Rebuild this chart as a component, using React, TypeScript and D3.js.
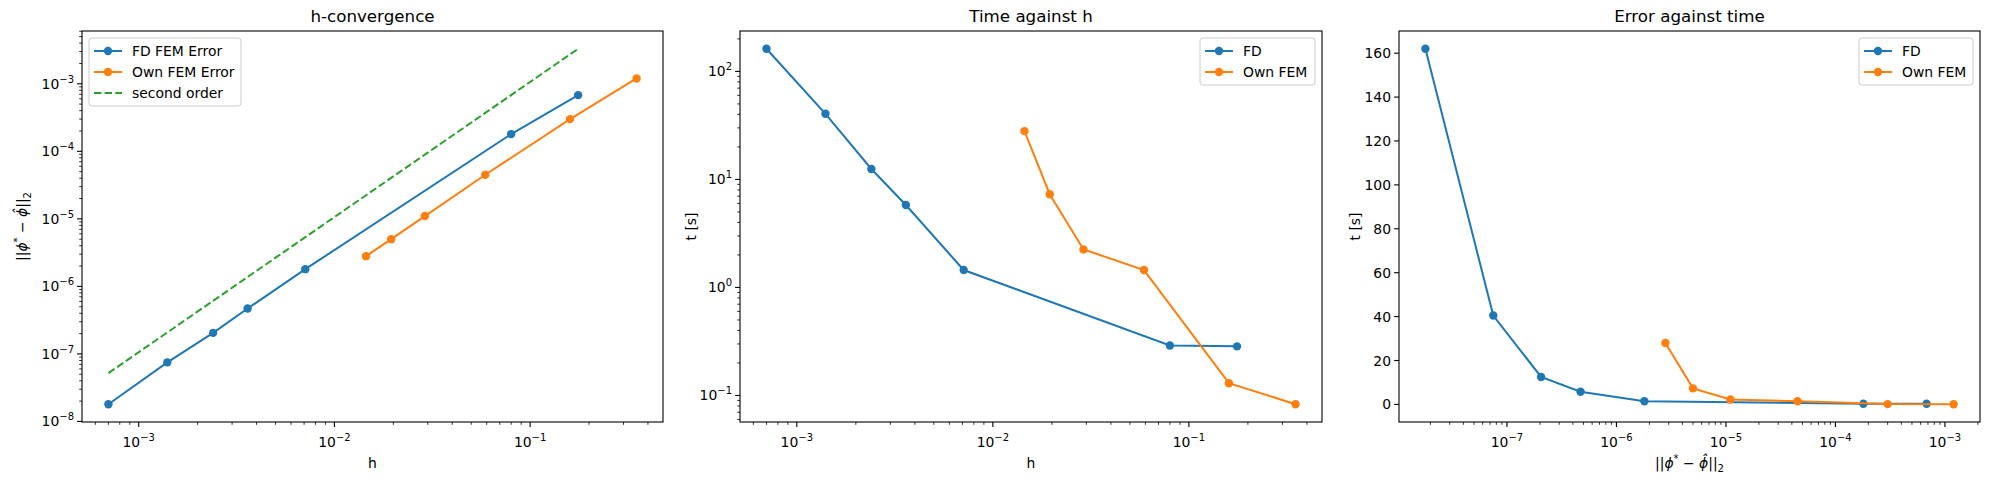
import React from 'react';
import * as d3 from 'd3';

const fdH = [7.0e-4, 1.4e-3, 2.4e-3, 3.6e-3, 7.1e-3, 0.08, 0.176];
const fdErr = [1.8e-8, 7.5e-8, 2.05e-7, 4.7e-7, 1.8e-6, 1.8e-4, 6.8e-4];
const fdTime = [162, 40.5, 12.5, 5.8, 1.45, 0.29, 0.285];

const ownH = [0.0145, 0.0195, 0.029, 0.059, 0.16, 0.35];
const ownErr = [2.8e-6, 5.0e-6, 1.1e-5, 4.5e-5, 3.0e-4, 1.2e-3];
const ownTime = [28, 7.3, 2.25, 1.45, 0.13, 0.083];

const orderH = [7.0e-4, 0.176];
const orderErr = [5.2e-8, 3.3e-3];

const linTicks = [0, 20, 40, 60, 80, 100, 120, 140, 160];

const BLUE = '#1f77b4';
const ORANGE = '#ff7f0e';
const GREEN = '#2ca02c';
const FONT = 'DejaVu Sans, sans-serif';

type Series = { x: number[]; y: number[]; color: string; label: string; dashed?: boolean; markers?: boolean };

const logDomain = (vals: number[]): [number, number] => {
  const lo = Math.log10(d3.min(vals)!);
  const hi = Math.log10(d3.max(vals)!);
  const m = (hi - lo) * 0.05;
  return [Math.pow(10, lo - m), Math.pow(10, hi + m)];
};
const linDomain = (vals: number[]): [number, number] => {
  const lo = d3.min(vals)!;
  const hi = d3.max(vals)!;
  const m = (hi - lo) * 0.05;
  return [lo - m, hi + m];
};

const logTicks = (dom: [number, number]) => {
  const major: number[] = [];
  const minor: number[] = [];
  for (let k = Math.floor(Math.log10(dom[0])); k <= Math.ceil(Math.log10(dom[1])); k++) {
    for (let j = 1; j < 10; j++) {
      const v = j * Math.pow(10, k);
      if (v < dom[0] || v > dom[1]) continue;
      (j === 1 ? major : minor).push(v);
    }
  }
  return { major, minor };
};

const Pow = ({ v }: { v: number }) => {
  const e = Math.round(Math.log10(v));
  return (
    <>
      10<tspan dy={-6} fontSize={10}>{e < 0 ? '\u2212' + -e : e}</tspan>
    </>
  );
};

const NormLabel = () => (
  <>
    ||<tspan fontStyle="italic">ϕ</tspan>
    <tspan dy={-6} fontSize={10}>*</tspan>
    <tspan dy={6}> − </tspan>
    <tspan fontStyle="italic">ϕ̂</tspan>||<tspan dy={4} fontSize={10}>2</tspan>
  </>
);

interface PanelProps {
  left: number;
  right: number;
  title: string;
  series: Series[];
  xLog: boolean;
  yLog: boolean;
  xLabel: React.ReactNode;
  yLabel: React.ReactNode;
  yLabelX: number;
  legend: 'left' | 'right';
  legendWidth: number;
}

const TOP = 31;
const BOTTOM = 422;

const Panel = ({ left, right, title, series, xLog, yLog, xLabel, yLabel, yLabelX, legend, legendWidth }: PanelProps) => {
  const allX = series.flatMap((s) => s.x);
  const allY = series.flatMap((s) => s.y);
  const xDom = xLog ? logDomain(allX) : linDomain(allX);
  const yDom = yLog ? logDomain(allY) : linDomain(allY);
  const x = (xLog ? d3.scaleLog() : d3.scaleLinear()).domain(xDom).range([left, right]);
  const y = (yLog ? d3.scaleLog() : d3.scaleLinear()).domain(yDom).range([BOTTOM, TOP]);
  const xt = logTicks(xDom);
  const yt = yLog ? logTicks(yDom) : { major: linTicks, minor: [] as number[] };
  const line = d3.line<[number, number]>().x((d) => x(d[0])).y((d) => y(d[1]));
  const lx = legend === 'left' ? left + 7 : right - 7 - legendWidth;
  const rows = series.length;

  return (
    <g fontFamily={FONT} fontSize={13.9} fill="#000">
      <text x={(left + right) / 2} y={22} textAnchor="middle" fontSize={16.7}>{title}</text>
      {series.map((s) => (
        <g key={s.label}>
          <path
            d={line(s.x.map((v, i) => [v, s.y[i]]))!}
            fill="none"
            stroke={s.color}
            strokeWidth={2}
            strokeDasharray={s.dashed ? '7.4,3.2' : undefined}
          />
          {s.markers !== false &&
            s.x.map((v, i) => <circle key={i} cx={x(v)} cy={y(s.y[i])} r={4.2} fill={s.color} />)}
        </g>
      ))}
      <rect x={left} y={TOP} width={right - left} height={BOTTOM - TOP} fill="none" stroke="#000" strokeWidth={1.1} />
      {xt.major.map((v) => (
        <g key={'xM' + v}>
          <line x1={x(v)} x2={x(v)} y1={BOTTOM} y2={BOTTOM + 4.9} stroke="#000" strokeWidth={1.1} />
          <text x={x(v)} y={BOTTOM + 25} textAnchor="middle"><Pow v={v} /></text>
        </g>
      ))}
      {xt.minor.map((v) => (
        <line key={'xm' + v} x1={x(v)} x2={x(v)} y1={BOTTOM} y2={BOTTOM + 2.8} stroke="#000" strokeWidth={0.8} />
      ))}
      {yt.major.map((v) => (
        <g key={'yM' + v}>
          <line x1={left} x2={left - 4.9} y1={y(v)} y2={y(v)} stroke="#000" strokeWidth={1.1} />
          <text x={left - 8} y={y(v) + 5} textAnchor="end">{yLog ? <Pow v={v} /> : v}</text>
        </g>
      ))}
      {yt.minor.map((v) => (
        <line key={'ym' + v} x1={left} x2={left - 2.8} y1={y(v)} y2={y(v)} stroke="#000" strokeWidth={0.8} />
      ))}
      <text x={(left + right) / 2} y={468} textAnchor="middle">{xLabel}</text>
      <text transform={`translate(${yLabelX},${(TOP + BOTTOM) / 2}) rotate(-90)`} textAnchor="middle">{yLabel}</text>
      <rect x={lx} y={38} width={legendWidth} height={rows * 21 + 5} rx={3} fill="#fff" fillOpacity={0.8} stroke="#ccc" />
      {series.map((s, i) => {
        const cy = 51 + i * 21;
        return (
          <g key={'lg' + s.label}>
            <line x1={lx + 5} x2={lx + 33} y1={cy} y2={cy} stroke={s.color} strokeWidth={2} strokeDasharray={s.dashed ? '7.4,3.2' : undefined} />
            {s.markers !== false && <circle cx={lx + 19} cy={cy} r={4.2} fill={s.color} />}
            <text x={lx + 43} y={cy + 5}>{s.label}</text>
          </g>
        );
      })}
    </g>
  );
};

export default function App() {
  return (
    <svg width={1989} height={489} style={{ position: 'absolute', left: 0, top: 0, background: '#fff' }}>
      <Panel
        left={82}
        right={663}
        title="h-convergence"
        xLog
        yLog
        xLabel="h"
        yLabel={<NormLabel />}
        yLabelX={27}
        legend="left"
        legendWidth={152}
        series={[
          { x: fdH, y: fdErr, color: BLUE, label: 'FD FEM Error' },
          { x: ownH, y: ownErr, color: ORANGE, label: 'Own FEM Error' },
          { x: orderH, y: orderErr, color: GREEN, label: 'second order', dashed: true, markers: false },
        ]}
      />
      <Panel
        left={740}
        right={1322}
        title="Time against h"
        xLog
        yLog
        xLabel="h"
        yLabel="t [s]"
        yLabelX={696}
        legend="right"
        legendWidth={115}
        series={[
          { x: fdH, y: fdTime, color: BLUE, label: 'FD' },
          { x: ownH, y: ownTime, color: ORANGE, label: 'Own FEM' },
        ]}
      />
      <Panel
        left={1399}
        right={1980}
        title="Error against time"
        xLog
        yLog={false}
        xLabel={<NormLabel />}
        yLabel="t [s]"
        yLabelX={1360}
        legend="right"
        legendWidth={114}
        series={[
          { x: fdErr, y: fdTime, color: BLUE, label: 'FD' },
          { x: ownErr, y: ownTime, color: ORANGE, label: 'Own FEM' },
        ]}
      />
    </svg>
  );
}
